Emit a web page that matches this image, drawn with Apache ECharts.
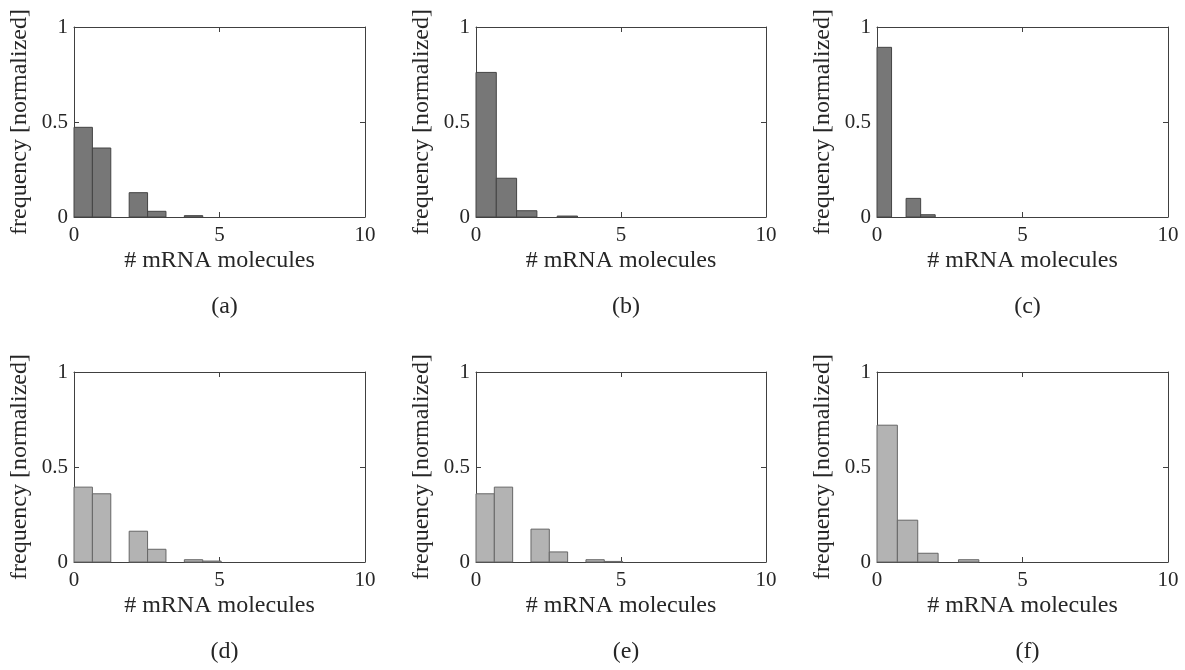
<!DOCTYPE html>
<html>
<head>
<meta charset="utf-8">
<script src="https://cdn.jsdelivr.net/npm/echarts@6/dist/echarts.min.js"></script>
<style>html,body{margin:0;padding:0;background:#fff;}#c{width:1185px;height:670px;}</style>
</head>
<body>
<div id="c"></div>
<script>
// ---- data ----
const panelLabels = ['(a)', '(b)', '(c)', '(d)', '(e)', '(f)'];
const xAxisName = '# mRNA molecules';
const yAxisName = 'frequency [normalized]';
const xTicks = [0, 5, 10];
const yTicks = [0, 0.5, 1];
// bin widths (x units) of each panel's histogram
const binWidthA = 0.632, binWidthB = 0.70, binWidthC = 0.5;
const binWidthD = 0.632, binWidthE = 0.632, binWidthF = 0.70;
// normalized frequencies per bin, starting at 0
const freqA = [0.472, 0.363, 0, 0.128, 0.030, 0, 0.007];
const freqB = [0.761, 0.204, 0.033, 0, 0.005];
const freqC = [0.893, 0, 0.098, 0.012];
const freqD = [0.394, 0.359, 0, 0.162, 0.067, 0, 0.012, 0.005];
const freqE = [0.359, 0.394, 0, 0.173, 0.053, 0, 0.012, 0.003];
const freqF = [0.720, 0.220, 0.046, 0, 0.012];

const panels = [
  {w: binWidthA, f: freqA}, {w: binWidthB, f: freqB}, {w: binWidthC, f: freqC},
  {w: binWidthD, f: freqD}, {w: binWidthE, f: freqE}, {w: binWidthF, f: freqF}
];

// ---- layout / style ----
const FONT = 'Liberation Serif';
const TXT = '#262626';
const AX = '#404040';
const lefts = [74, 476, 877];
const widths = [291, 290, 291];
const tops = [27, 372];
const H = 190;
const fills = ['#777777', '#b3b3b3'];
const edges = ['#444444', '#666666'];

const grid = [], xAxis = [], yAxis = [], series = [], title = [];
panels.forEach((p, i) => {
  const row = Math.floor(i / 3), col = i % 3;
  grid.push({left: lefts[col], top: tops[row], width: widths[col], height: H, containLabel: false});
  xAxis.push({type: 'value', gridIndex: i, min: xTicks[0], max: xTicks[xTicks.length - 1], interval: 5,
    position: 'bottom',
    name: xAxisName, nameLocation: 'middle', nameGap: 32,
    nameTextStyle: {fontFamily: FONT, fontSize: 24, color: TXT},
    axisLine: {show: true, onZero: false, lineStyle: {color: AX, width: 1}},
    axisTick: {show: true, inside: true, length: 5, lineStyle: {color: AX}},
    axisLabel: {fontFamily: FONT, fontSize: 21, color: TXT, margin: 8},
    splitLine: {show: false}});
  xAxis.push({type: 'value', gridIndex: i, min: 0, max: 10, interval: 5, position: 'top',
    axisLine: {show: true, onZero: false, lineStyle: {color: AX, width: 1}},
    axisTick: {show: true, inside: true, length: 5, lineStyle: {color: AX}},
    axisLabel: {show: false}, splitLine: {show: false}});
  yAxis.push({type: 'value', gridIndex: i, min: yTicks[0], max: yTicks[yTicks.length - 1], interval: 0.5,
    position: 'left',
    name: yAxisName, nameLocation: 'middle', nameGap: 42, nameRotate: 90,
    nameTextStyle: {fontFamily: FONT, fontSize: 24, color: TXT},
    axisLine: {show: true, onZero: false, lineStyle: {color: AX, width: 1}},
    axisTick: {show: true, inside: true, length: 5, lineStyle: {color: AX}},
    axisLabel: {fontFamily: FONT, fontSize: 21, color: TXT, margin: 6},
    splitLine: {show: false}});
  yAxis.push({type: 'value', gridIndex: i, min: 0, max: 1, interval: 0.5, position: 'right',
    axisLine: {show: true, onZero: false, lineStyle: {color: AX, width: 1}},
    axisTick: {show: true, inside: true, length: 5, lineStyle: {color: AX}},
    axisLabel: {show: false}, splitLine: {show: false}});
  const data = [];
  p.f.forEach((v, k) => { if (v > 0) data.push([k * p.w, (k + 1) * p.w, v]); });
  series.push({
    type: 'custom', xAxisIndex: 2 * i, yAxisIndex: 2 * i, data: data,
    encode: {x: [0, 1], y: 2},
    renderItem: (params, api) => {
      const a = api.coord([api.value(0), api.value(2)]);
      const b = api.coord([api.value(1), 0]);
      return {type: 'rect', shape: {x: a[0], y: a[1], width: b[0] - a[0], height: b[1] - a[1]},
        style: {fill: fills[row], stroke: edges[row], lineWidth: 1}};
    },
    z: 1
  });
  title.push({text: panelLabels[i], left: lefts[col] + widths[col] / 2, top: tops[row] + H + 73,
    textAlign: 'center',
    textStyle: {fontFamily: FONT, fontSize: 24, fontWeight: 'normal', color: TXT}});
});

const chart = echarts.init(document.getElementById('c'), null, {renderer: 'canvas'});
chart.setOption({animation: false, backgroundColor: '#ffffff', title, grid, xAxis, yAxis, series});
</script>
</body>
</html>
